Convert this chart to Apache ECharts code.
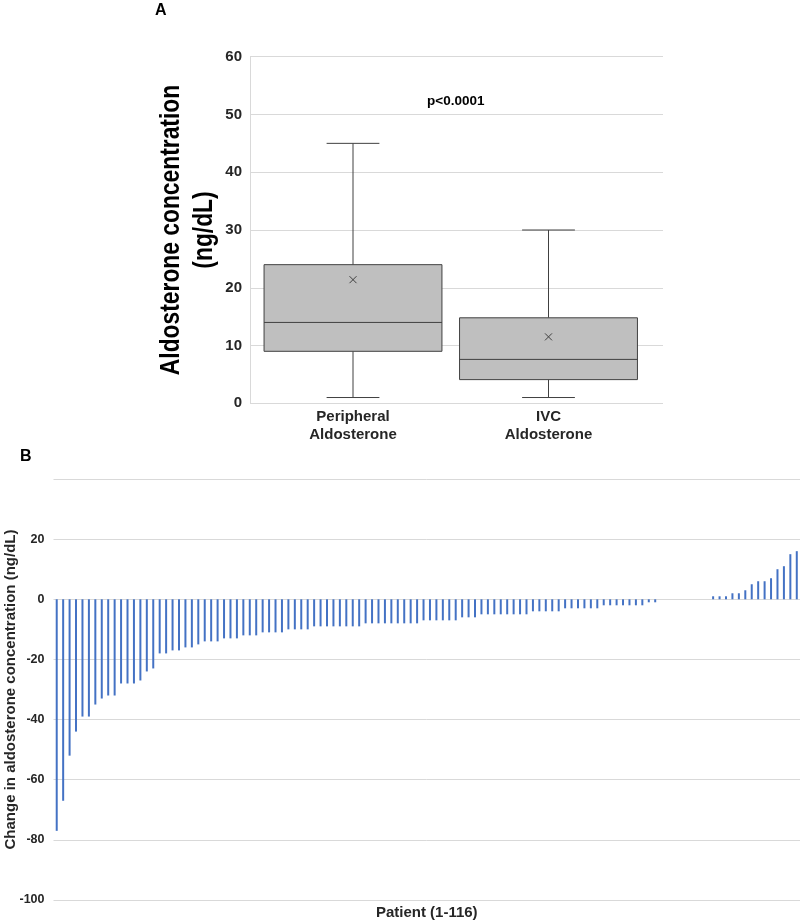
<!DOCTYPE html>
<html>
<head>
<meta charset="utf-8">
<script src="https://cdn.jsdelivr.net/npm/echarts@6/dist/echarts.min.js"></script>
<style>
html,body{margin:0;padding:0;background:#fff;}
#chart{width:800px;height:922px;}
</style>
</head>
<body>
<div id="chart"></div>
<script>
// ---- Panel A data (box plot) ----
const boxCategories = ['Peripheral\nAldosterone', 'IVC\nAldosterone'];
const boxMin    = [1, 1];
const boxQ1     = [9, 4.1];
const boxMedian = [14, 7.6];
const boxQ3     = [24, 14.8];
const boxMax    = [45, 30];
const boxMean   = [21.4, 11.5];
const panelATicks = [0, 10, 20, 30, 40, 50, 60];
const panelATitle = 'Aldosterone concentration\n(ng/dL)';
const pValueText = 'p<0.0001';

// ---- Panel B data (waterfall of change per patient) ----
const patientChange = [
  -77,-67,-52,-44,-39,-39,-35,-33,-32,-32,
  -28,-28,-28,-27,-24,-23,-18,-18,-17,-17,
  -16,-16,-15,-14,-14,-14,-13,-13,-13,
  -12,-12,-12,-11,-11,-11,-11,-10,-10,-10,-10,
  -9,-9,-9,-9,-9,-9,-9,-9,
  -8,-8,-8,-8,-8,-8,-8,-8,-8,
  -7,-7,-7,-7,-7,-7,-6,-6,-6,
  -5,-5,-5,-5,-5,-5,-5,-5,
  -4,-4,-4,-4,-4,-3,-3,-3,-3,-3,-3,
  -2,-2,-2,-2,-2,-2,-2,-1,-1,
  0,0,0,0,0,0,0,0,
  1,1,1,2,2,3,5,6,6,7,10,11,15,16
];
const patientIds = patientChange.map((v, i) => String(i + 1));
const panelBTicks = [-100, -80, -60, -40, -20, 0, 20];

const FONT = "'Liberation Sans', Arial, Helvetica, sans-serif";
const TXT = '#262626';
const GRID = '#d9d9d9';
const LINE = '#404040';

const boxData = boxCategories.map((c, i) =>
  [i, boxMin[i], boxQ1[i], boxMedian[i], boxQ3[i], boxMax[i], boxMean[i]]);

function renderBox(params, api) {
  const x = api.value(0);
  const band = api.size([1, 0])[0];
  const bw = band * 0.91, cw = band * 0.27;
  const pMin = api.coord([x, api.value(1)]);
  const pQ1 = api.coord([x, api.value(2)]);
  const pMed = api.coord([x, api.value(3)]);
  const pQ3 = api.coord([x, api.value(4)]);
  const pMax = api.coord([x, api.value(5)]);
  const pMean = api.coord([x, api.value(6)]);
  const cx = pMed[0];
  const ls = {stroke: LINE, lineWidth: 1};
  const m = 3.5;
  return {
    type: 'group',
    children: [
      {type: 'line', shape: {x1: cx, y1: pMax[1], x2: cx, y2: pQ3[1]}, style: ls},
      {type: 'line', shape: {x1: cx, y1: pMin[1], x2: cx, y2: pQ1[1]}, style: ls},
      {type: 'line', shape: {x1: cx - cw / 2, y1: pMax[1], x2: cx + cw / 2, y2: pMax[1]}, style: ls},
      {type: 'line', shape: {x1: cx - cw / 2, y1: pMin[1], x2: cx + cw / 2, y2: pMin[1]}, style: ls},
      {type: 'rect', shape: {x: cx - bw / 2, y: pQ3[1], width: bw, height: pQ1[1] - pQ3[1]},
        style: {fill: '#bfbfbf', stroke: LINE, lineWidth: 1}},
      {type: 'line', shape: {x1: cx - bw / 2, y1: pMed[1], x2: cx + bw / 2, y2: pMed[1]}, style: ls},
      {type: 'line', shape: {x1: cx - m, y1: pMean[1] - m, x2: cx + m, y2: pMean[1] + m}, style: ls},
      {type: 'line', shape: {x1: cx - m, y1: pMean[1] + m, x2: cx + m, y2: pMean[1] - m}, style: ls}
    ]
  };
}

const chart = echarts.init(document.getElementById('chart'), null, {renderer: 'canvas'});
chart.setOption({
  animation: false,
  backgroundColor: '#ffffff',
  textStyle: {fontFamily: FONT},
  grid: [
    {left: 250, top: 56.7, width: 413, height: 346.6, containLabel: false, outerBoundsMode: 'none'},
    {left: 255.25, top: 56.7, width: 391, height: 346.6, containLabel: false, outerBoundsMode: 'none'},
    {left: 53.5, top: 479, right: 0, height: 421, containLabel: false, outerBoundsMode: 'none'}
  ],
  xAxis: [
    {gridIndex: 0, type: 'value', min: 0, max: 1, show: false},
    {gridIndex: 1, type: 'category', data: boxCategories,
      axisLine: {show: false}, axisTick: {show: false},
      axisLabel: {color: TXT, fontWeight: 'bold', fontSize: 15, lineHeight: 18, margin: 5, fontFamily: FONT}},
    {gridIndex: 2, type: 'category', data: patientIds,
      axisLine: {show: false, onZero: false}, axisTick: {show: false}, axisLabel: {show: false},
      name: 'Patient (1-116)', nameLocation: 'middle', nameGap: 5,
      nameTextStyle: {color: TXT, fontWeight: 'bold', fontSize: 15, fontFamily: FONT}}
  ],
  yAxis: [
    {gridIndex: 0, type: 'value', min: 0, max: 60, interval: 10,
      axisLine: {show: true, lineStyle: {color: GRID}}, axisTick: {show: false},
      splitLine: {lineStyle: {color: GRID, width: 1}},
      axisLabel: {color: TXT, fontWeight: 'bold', fontSize: 15, margin: 8, fontFamily: FONT,
        formatter: v => panelATicks.includes(v) ? String(v) : ''}},
    {gridIndex: 1, type: 'value', min: 0, max: 60, show: false},
    {gridIndex: 2, type: 'value', min: -100, max: 40, interval: 20,
      axisLine: {show: false}, axisTick: {show: false},
      splitLine: {lineStyle: {color: GRID, width: 1}},
      axisLabel: {color: TXT, fontWeight: 'bold', fontSize: 12.5, margin: 9, fontFamily: FONT,
        formatter: v => panelBTicks.includes(v) ? String(v) : ''},
      name: 'Change in aldosterone concentration (ng/dL)', nameLocation: 'middle', nameGap: 35,
      nameMoveOverlap: false,
      nameTextStyle: {color: TXT, fontWeight: 'bold', fontSize: 15, fontFamily: FONT}}
  ],
  series: [
    {type: 'custom', xAxisIndex: 1, yAxisIndex: 1, renderItem: renderBox,
      encode: {x: 0, y: [1, 2, 3, 4, 5, 6]}, data: boxData, z: 5},
    {type: 'bar', xAxisIndex: 2, yAxisIndex: 2, data: patientChange, barWidth: 2,
      itemStyle: {color: '#4472c4'}}
  ],
  graphic: [
    {type: 'text', left: 155, top: 3, style: {text: 'A', font: "bold 16px 'Liberation Sans', Arial", fill: '#000'}},
    {type: 'text', left: 20, top: 449, style: {text: 'B', font: "bold 16px 'Liberation Sans', Arial", fill: '#000'}},
    {type: 'text', left: 427, top: 94, style: {text: pValueText, font: "bold 13.5px 'Liberation Sans', Arial", fill: '#000'}},
    {type: 'text', x: 188, y: 230, rotation: Math.PI / 2, scaleX: 0.815, scaleY: 1,
      style: {text: panelATitle, font: "bold 28px 'Liberation Sans', Arial", lineHeight: 33,
        fill: '#000', textAlign: 'center', textVerticalAlign: 'middle'}}
  ]
});
</script>
</body>
</html>
